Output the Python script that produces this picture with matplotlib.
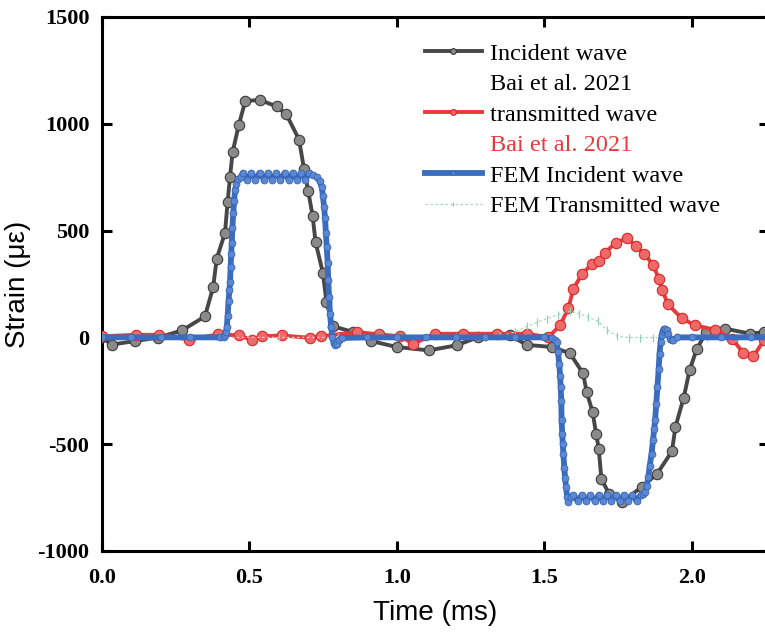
import matplotlib
matplotlib.use("Agg")
import matplotlib.pyplot as plt
from matplotlib.lines import Line2D

# ---------------- data ----------------
inc_t = [0.000, 0.033, 0.112, 0.191, 0.272, 0.349, 0.377, 0.389, 0.417, 0.426,
         0.434, 0.443, 0.464, 0.486, 0.536, 0.592, 0.625, 0.668, 0.685, 0.699,
         0.714, 0.724, 0.749, 0.761, 0.783, 0.852, 0.912, 0.999, 1.108, 1.202,
         1.276, 1.383, 1.440, 1.525, 1.586, 1.631, 1.643, 1.663, 1.675, 1.684,
         1.693, 1.719, 1.763, 1.829, 1.881, 1.932, 1.944, 1.972, 1.992, 2.016,
         2.049, 2.112, 2.198, 2.244]
inc_s = [0, -34, -17, -1, 33, 98, 236, 369, 489, 635,
         751, 868, 996, 1107, 1111, 1081, 1044, 926, 787, 686,
         569, 446, 301, 166, 52, 25, -17, -45, -61, -37,
         1, 9, -35, -45, -74, -169, -256, -349, -451, -521,
         -664, -732, -771, -701, -640, -534, -419, -282, -153, -55,
         26, 41, 17, 25]

tra_t = [0.000, 0.115, 0.195, 0.295, 0.393, 0.465, 0.507, 0.541, 0.609, 0.705,
         0.742, 0.865, 0.939, 1.010, 1.056, 1.129, 1.225, 1.338, 1.440, 1.513,
         1.553, 1.581, 1.598, 1.628, 1.662, 1.686, 1.705, 1.741, 1.781, 1.810,
         1.838, 1.867, 1.888, 1.899, 1.918, 1.965, 2.010, 2.078, 2.135, 2.174,
         2.208, 2.244]
tra_s = [5, 12, 12, -10, 14, 9, -11, 5, 9, -2,
         5, 25, 14, 5, -30, 17, 17, 17, 17, 1,
         56, 137, 228, 298, 345, 356, 397, 442, 465, 426,
         392, 341, 275, 223, 155, 90, 56, 36, -6, -72,
         -89, -14]

fem_inc_t = [0.000, 0.100, 0.200, 0.300, 0.400, 0.412, 0.417, 0.420, 0.423, 0.426,
             0.429, 0.432, 0.434, 0.436, 0.438, 0.440, 0.442, 0.445, 0.448, 0.451,
             0.456, 0.462, 0.470, 0.478, 0.492, 0.506, 0.520, 0.534, 0.549, 0.563,
             0.577, 0.591, 0.605, 0.619, 0.633, 0.647, 0.661, 0.675, 0.689, 0.703,
             0.715, 0.728, 0.738, 0.745, 0.749, 0.753, 0.756, 0.759, 0.762, 0.765,
             0.767, 0.770, 0.773, 0.777, 0.781, 0.785, 0.790, 0.796, 0.803, 0.812,
             0.900, 1.000, 1.100, 1.200, 1.300, 1.400, 1.500, 1.524, 1.535, 1.541,
             1.546, 1.550, 1.553, 1.555, 1.557, 1.558, 1.560, 1.562, 1.564, 1.567,
             1.570, 1.573, 1.577, 1.581, 1.590, 1.598, 1.612, 1.627, 1.641, 1.655,
             1.670, 1.684, 1.698, 1.713, 1.727, 1.741, 1.756, 1.770, 1.784, 1.798,
             1.812, 1.826, 1.834, 1.841, 1.847, 1.852, 1.857, 1.863, 1.868, 1.872,
             1.875, 1.879, 1.883, 1.887, 1.890, 1.894, 1.897, 1.901, 1.905, 1.910,
             1.914, 1.919, 1.925, 1.931, 1.937, 1.950, 2.000, 2.100, 2.200, 2.260]
fem_inc_s = [0, 0, 0, 0, 0, 2, 10, 25, 48, 100,
             170, 220, 260, 330, 390, 440, 510, 581, 640, 689,
             720, 740, 752, 770, 738, 770, 738, 770, 738, 770,
             738, 770, 738, 770, 738, 770, 738, 770, 738, 770,
             758, 751, 730, 704, 660, 610, 560, 490, 423, 350,
             267, 190, 111, 50, 1, -25, -37, -30, -12, -3,
             0, 0, 0, 0, 0, 0, 0, -2, -10, -22,
             -70, -123, -180, -233, -300, -389, -450, -500, -545, -610,
             -660, -701, -745, -771, -748, -738, -765, -738, -765, -738,
             -765, -738, -765, -738, -765, -738, -765, -738, -765, -738,
             -765, -738, -735, -725, -695, -654, -600, -545, -480, -430,
             -389, -310, -233, -150, -76, -20, 9, 30, 41, 40,
             33, 15, -6, -14, -10, 0, 0, 0, 0, 0]

fem_tra_t = [0.000, 0.200, 0.400, 0.600, 0.800, 1.000, 1.200, 1.300, 1.349, 1.400,
             1.440, 1.475, 1.507, 1.547, 1.586, 1.618, 1.648, 1.682, 1.711, 1.747,
             1.787, 1.824, 1.867, 1.950, 2.050, 2.150, 2.260]
fem_tra_s = [0, 0, 0, 0, 0, 0, 0, 0, 5, 25,
             52, 70, 87, 107, 122, 111, 95, 75, 36, 5,
             -1, -1, -1, 0, 0, 0, 0]

x_ticks = [0.0, 0.5, 1.0, 1.5, 2.0]
y_ticks = [-1000, -500, 0, 500, 1000, 1500]

labels = ["Incident wave", "Bai et al. 2021", "transmitted wave",
          "Bai et al. 2021", "FEM Incident wave", "FEM Transmitted wave"]

# ---------------- styling ----------------
GRAY = "#474747"
RED = "#e8393c"
BLUE = "#3b6dbf"
GREEN = "#9fdcc0"

fig = plt.figure(figsize=(7.65, 6.35), dpi=100)
ax = fig.add_axes([0.1333, 0.1323, 0.8715, 0.841])

l_inc, = ax.plot(inc_t, inc_s, color=GRAY, lw=2.8, marker="o", ms=7.5,
                 mfc="#8a8a8a", mec="#3a3a3a", mew=0.8, zorder=3)
l_tra, = ax.plot(tra_t, tra_s, color=RED, lw=2.8, marker="o", ms=7.5,
                 mfc="#f06868", mec="#d42a2a", mew=0.8, zorder=4)
l_ftra, = ax.plot(fem_tra_t, fem_tra_s, color=GREEN, lw=0.9, ls=(0, (2, 2)),
                  marker="|", ms=6, mec="#8fd3b3", mew=0.9, zorder=5)
l_finc, = ax.plot(fem_inc_t, fem_inc_s, color=BLUE, lw=4.2, marker="o", ms=5,
                  mfc="#5b88d4", mec="#2f5fae", mew=0.5, zorder=6)

ax.set_xlim(0, 2.26)
ax.set_ylim(-1000, 1500)
ax.set_xticks(x_ticks)
ax.set_yticks(y_ticks)
ax.set_xticklabels([f"{v:.1f}" for v in x_ticks])
ax.set_yticklabels([str(v) for v in y_ticks])

for sp in ax.spines.values():
    sp.set_linewidth(2.2)
ax.tick_params(direction="in", length=7, width=2.2, top=True, right=True,
               labelsize=16)
ax.tick_params(axis="x", pad=12)
ax.tick_params(axis="y", pad=9)
for lab in ax.get_xticklabels() + ax.get_yticklabels():
    lab.set_fontfamily("Liberation Serif")
    lab.set_fontweight("bold")

ax.set_xlabel("Time (ms)", fontsize=20, fontfamily="Liberation Sans", labelpad=9)
ax.set_ylabel("Strain (με)", fontsize=20, fontfamily="Liberation Sans", labelpad=5)

blank = Line2D([], [], ls="none", marker=None)
handles = [l_inc, blank, l_tra, blank, l_finc, l_ftra]
leg = ax.legend(handles, labels, loc="upper left", bbox_to_anchor=(0.484, 0.952),
                frameon=False, prop={"family": "Liberation Serif", "size": 17.5},
                handlelength=2.35, handletextpad=0.33, labelspacing=0.35,
                borderpad=0, borderaxespad=0, markerscale=0.55)
leg.get_texts()[3].set_color(RED)

fig.savefig("out.png", dpi=100)
